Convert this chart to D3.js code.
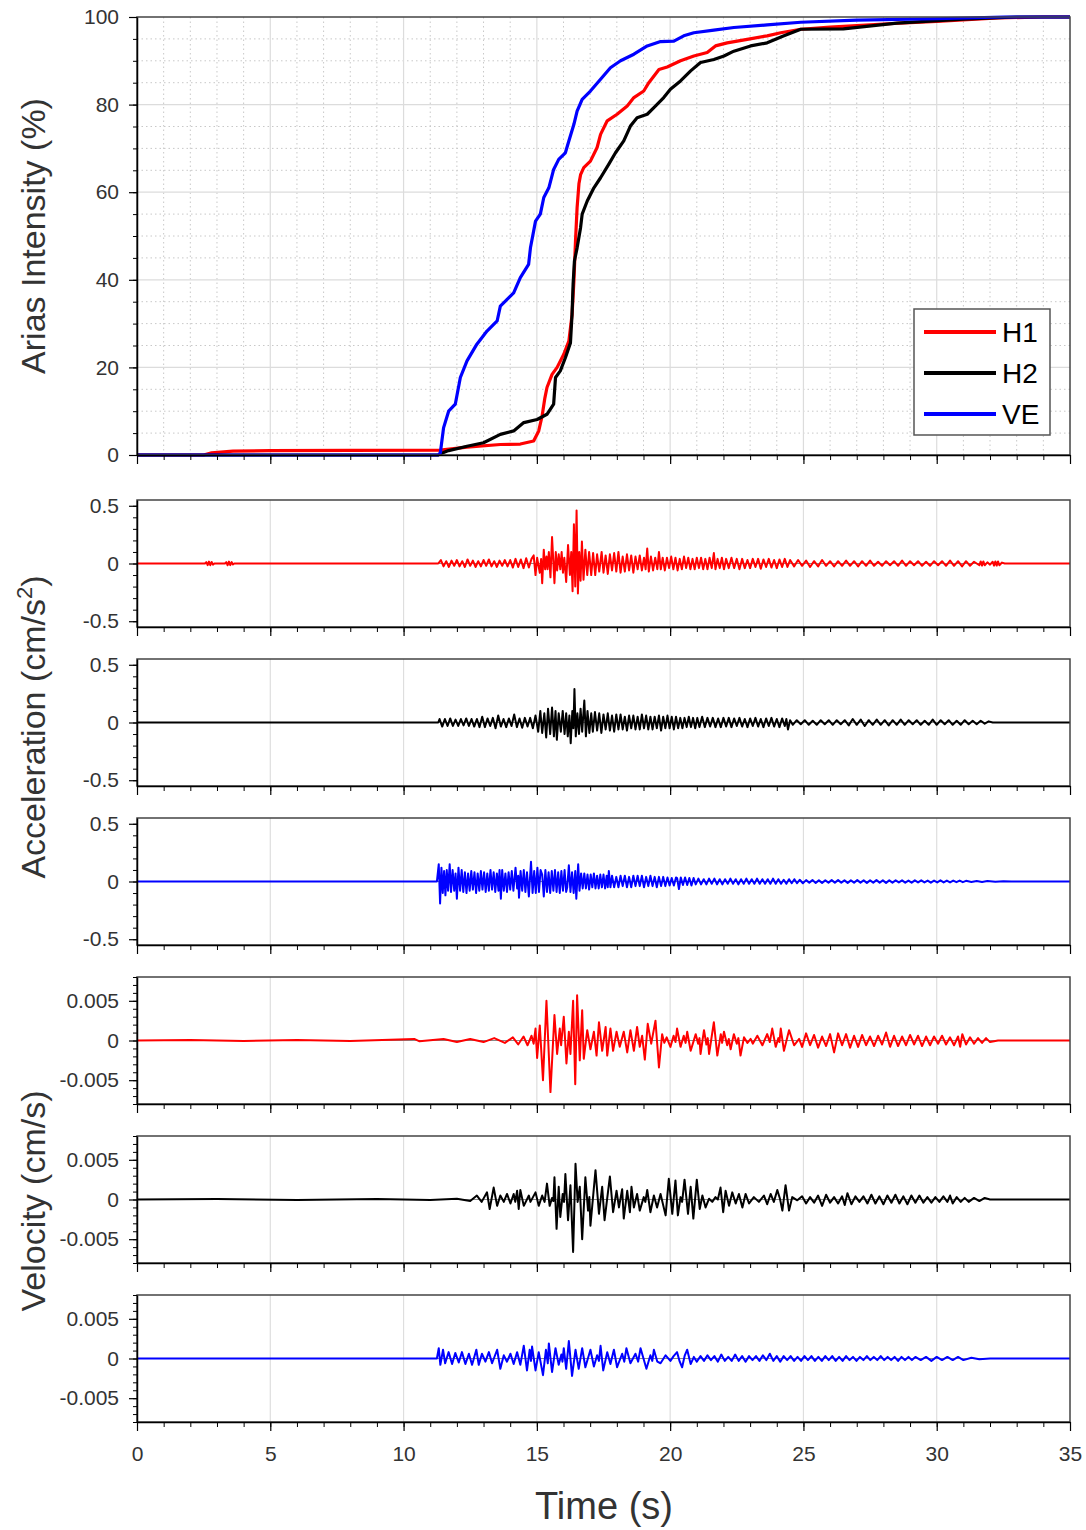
<!DOCTYPE html>
<html><head><meta charset="utf-8">
<script src="https://cdn.jsdelivr.net/npm/d3@7"></script>
<style>
body{margin:0;background:#fff}
svg{display:block}
text{font-family:"Liberation Sans",Arial,Helvetica,sans-serif}
</style>
</head><body>
<svg id="chart" width="1086" height="1530"></svg>
<script>
// ---------------- DATA ----------------
const timeMajorTicks = [0,5,10,15,20,25,30,35];
const ariasTicks = [0,20,40,60,80,100];
const accTicks = [-0.5,0,0.5];
const velTicks = [-0.005,0,0.005];
const seriesNames = ["H1","H2","VE"];

// Arias intensity (%) vs time (s)
const ariasH1 = [[0,0],[2.5,0],[2.8,0.5],[3.6,0.9],[5,1.0],[8,1.05],[11.38,1.1],[12.38,1.8],[13.63,2.4],[14.38,2.5],[14.88,3.2],[15.07,5.5],[15.2,9],[15.3,13],[15.38,15.4],[15.57,18.4],[15.76,20],[16.01,23],[16.2,26],[16.32,32],[16.39,39.7],[16.45,48.9],[16.51,56.5],[16.58,62],[16.64,64],[16.76,65.6],[17.01,67.1],[17.26,70.2],[17.39,73.2],[17.64,76.3],[18.01,77.8],[18.39,79.7],[18.64,81.6],[19.01,83.1],[19.2,85],[19.58,88],[19.89,88.6],[20.39,90],[20.89,91.1],[21.39,91.9],[21.7,93.4],[22.14,94.1],[22.89,94.9],[23.64,95.7],[24.15,96.4],[24.9,97.2],[26,97.7],[28,98.4],[30,99],[32.3,99.8],[34,100],[35,100]];
const ariasH2 = [[0,0],[11.3,0],[11.38,0.3],[11.69,1],[12.38,2],[13.0,2.8],[13.63,4.7],[14.13,5.5],[14.51,7.4],[15.01,8.1],[15.38,9.3],[15.63,11.6],[15.7,17.7],[15.88,19.2],[16.07,22.2],[16.26,25.6],[16.32,32.1],[16.36,39],[16.41,44.3],[16.51,47.3],[16.64,51.9],[16.7,55],[16.89,58],[17.14,61],[17.39,63.3],[17.7,66.4],[17.95,69],[18.26,71.7],[18.51,75.1],[18.76,77],[19.14,77.8],[19.39,79.3],[19.76,81.6],[20.01,83.5],[20.39,85.4],[20.77,87.7],[21.14,89.6],[21.64,90.3],[22.02,91.1],[22.39,92.2],[23.02,93.4],[23.64,94.1],[24.27,95.7],[24.9,97.2],[26.5,97.3],[28.5,98.6],[31,99.5],[33,100],[35,100]];
const ariasVE = [[0,0],[11.3,0],[11.38,0.5],[11.5,6.2],[11.69,10],[11.94,11.6],[12.13,17.7],[12.38,21.5],[12.75,25.3],[13.13,28.3],[13.51,30.6],[13.63,34],[14.13,37],[14.38,40.5],[14.69,43.5],[14.76,47.3],[14.95,53.4],[15.13,55],[15.26,58.8],[15.45,61],[15.63,65.2],[15.82,67.5],[16.07,69],[16.2,71.7],[16.39,75.5],[16.51,78.5],[16.7,81.2],[17.01,83.1],[17.39,85.8],[17.76,88.4],[18.14,90],[18.64,91.5],[19.14,93.4],[19.64,94.4],[20.14,94.5],[20.51,95.7],[20.89,96.4],[21.64,97],[22.39,97.6],[23.64,98.2],[24.9,98.8],[27,99.3],[30,99.6],[32.5,100],[35,100]];

// Acceleration (cm/s^2) vs time (s)
const accH1 = [[0,0],[2.55,0],[2.6,0.012],[2.65,-0.014],[2.7,0.016],[2.75,-0.015],[2.8,0.013],[2.85,-0.01],[2.9,0],[3.3,0],[3.35,0.012],[3.4,-0.015],[3.45,0.016],[3.5,-0.014],[3.55,0.012],[3.6,-0.008],[3.65,0],[11.3,0],
[11.4,0.03],[11.5,-0.025],[11.6,0.02],[11.7,-0.03],[11.8,0.025],[11.9,-0.02],[12.0,0.03],[12.1,-0.025],[12.2,0.02],[12.3,-0.03],[12.4,0.035],[12.5,-0.02],[12.6,0.025],[12.7,-0.03],[12.8,0.02],[12.9,-0.025],[13.0,0.03],[13.1,-0.02],[13.2,0.035],[13.3,-0.025],[13.4,0.02],[13.5,-0.03],[13.6,0.025],[13.7,-0.02],[13.8,0.03],[13.9,-0.025],[14.0,0.03],[14.1,-0.035],[14.2,0.04],[14.3,-0.03],[14.4,0.035],[14.5,-0.04],[14.6,0.045],[14.7,-0.035],[14.8,0.04],
[14.88,0.07],[14.95,-0.10],[15.01,0.05],[15.11,-0.08],[15.16,0.04],[15.20,-0.17],[15.26,0.12],[15.31,-0.05],[15.36,0.06],[15.40,-0.05],[15.45,0.10],[15.51,-0.12],[15.57,0.23],[15.66,-0.17],[15.71,0.10],[15.76,-0.06],[15.82,0.08],[15.88,-0.05],[15.93,0.10],[15.98,-0.08],[16.03,0.05],[16.10,-0.16],[16.17,0.16],[16.24,-0.10],[16.29,0.10],[16.34,-0.24],[16.39,0.34],[16.44,-0.20],[16.49,0.46],[16.54,-0.26],[16.59,0.10],[16.64,-0.15],[16.69,0.19],[16.75,-0.14],[16.82,0.12],[16.89,-0.10],[16.96,0.10],[17.04,-0.10],[17.11,0.09],[17.19,-0.10],[17.26,0.08],[17.34,-0.07],[17.43,0.10],[17.5,-0.08],[17.58,0.07],[17.66,-0.09],[17.74,0.08],[17.82,-0.06],[17.9,0.09],[17.98,-0.07],[18.06,0.10],[18.14,-0.08],[18.22,0.06],[18.3,-0.07],[18.38,0.08],[18.46,-0.06],[18.54,0.07],[18.62,-0.08],[18.7,0.06],[18.78,-0.05],[18.86,0.07],[18.94,-0.06],[19.02,0.05],[19.08,-0.05],[19.14,0.13],[19.2,-0.07],[19.28,0.06],[19.36,-0.06],[19.44,0.05],[19.52,-0.05],[19.58,0.10],[19.65,-0.05],[19.72,0.05],[19.8,-0.06],[19.88,0.05],[19.96,-0.04],[20.04,0.06],[20.12,-0.05],[20.2,0.05],[20.28,-0.06],[20.36,0.04],[20.44,-0.05],[20.52,0.06],[20.6,-0.04],[20.68,0.05],[20.76,-0.05],[20.84,0.04],[20.92,-0.05],[21.0,0.05],[21.08,-0.04],[21.16,0.05],[21.24,-0.05],[21.32,0.04],[21.4,-0.05],[21.48,0.05],[21.56,-0.04],[21.64,0.09],[21.7,-0.05],[21.78,0.04],[21.86,-0.04],[21.94,0.05],[22.02,-0.05],[22.1,0.04],[22.2,-0.04],[22.3,0.05],[22.4,-0.04],[22.5,0.04],[22.6,-0.05],[22.7,0.04],[22.8,-0.04],[22.9,0.03],[23.0,-0.04],[23.1,0.04],[23.2,-0.03],[23.3,0.04],[23.4,-0.045],[23.5,0.035],[23.6,-0.03],[23.7,0.04],[23.8,-0.035],[23.9,0.03],[24.0,-0.04],[24.1,0.035],[24.2,-0.03],[24.3,0.04],[24.4,-0.03],[24.5,0.03],
[24.65,-0.025],[24.8,0.03],[24.95,-0.02],[25.1,0.025],[25.25,-0.03],[25.4,0.02],[25.55,-0.025],[25.7,0.03],[25.85,-0.02],[26.0,0.02],[26.15,-0.025],[26.3,0.02],[26.45,-0.02],[26.6,0.025],[26.75,-0.02],[26.9,0.02],[27.05,-0.025],[27.2,0.02],[27.35,-0.02],[27.5,0.025],[27.65,-0.02],[27.8,0.015],[27.95,-0.02],[28.1,0.02],[28.25,-0.015],[28.4,0.02],[28.55,-0.02],[28.7,0.025],[28.85,-0.02],[29.0,0.02],[29.15,-0.015],[29.3,0.02],[29.45,-0.02],[29.6,0.015],[29.75,-0.02],[29.9,0.02],[30.05,-0.015],[30.2,0.02],[30.35,-0.02],[30.5,0.025],[30.65,-0.02],[30.8,0.02],[30.95,-0.025],[31.1,0.02],[31.25,-0.02],[31.4,0.015],
[31.6,-0.015],[31.65,0.018],[31.7,-0.018],[31.75,0.018],[31.8,-0.015],[31.9,0.01],[32.0,-0.01],[32.1,0.015],[32.15,-0.018],[32.2,0.018],[32.25,-0.018],[32.3,0.018],[32.35,-0.015],[32.45,0.008],[32.55,0],[35,0]];

const accH2 = [[0,0],[11.3,0],
[11.35,0.03],[11.45,-0.035],[11.55,0.03],[11.65,-0.03],[11.75,0.035],[11.85,-0.03],[11.95,0.025],[12.05,-0.03],[12.15,0.03],[12.25,-0.025],[12.35,0.035],[12.45,-0.03],[12.55,0.03],[12.65,-0.035],[12.75,0.03],[12.85,-0.04],[12.95,0.05],[13.05,-0.04],[13.15,0.035],[13.25,-0.03],[13.35,0.04],[13.45,-0.05],[13.55,0.06],[13.65,-0.035],[13.75,0.03],[13.85,-0.04],[13.95,0.035],[14.05,-0.03],[14.15,0.07],[14.25,-0.04],[14.35,0.035],[14.45,-0.045],[14.55,0.04],[14.65,-0.035],[14.75,0.04],[14.85,-0.05],[14.95,0.06],[15.05,-0.08],[15.13,0.10],[15.2,-0.09],[15.28,0.08],[15.35,-0.13],[15.42,0.12],[15.5,-0.10],[15.57,0.13],[15.64,-0.12],[15.7,0.10],[15.75,-0.15],[15.82,0.08],[15.9,-0.08],[15.97,0.10],[16.04,-0.10],[16.1,0.08],[16.16,-0.12],[16.22,0.06],[16.27,-0.18],[16.33,0.10],[16.37,-0.05],[16.41,0.29],[16.46,-0.12],[16.52,0.08],[16.58,-0.10],[16.64,0.12],[16.7,-0.08],[16.78,0.19],[16.84,-0.12],[16.9,0.10],[16.97,-0.09],[17.04,0.08],[17.1,-0.08],[17.18,0.09],[17.26,-0.07],[17.34,0.08],[17.42,-0.09],[17.5,0.07],[17.58,-0.06],[17.66,0.08],[17.74,-0.07],[17.82,0.06],[17.9,-0.08],[17.98,0.07],[18.06,-0.06],[18.14,0.07],[18.22,-0.06],[18.3,0.05],[18.38,-0.07],[18.46,0.06],[18.54,-0.05],[18.62,0.06],[18.7,-0.06],[18.78,0.05],[18.86,-0.06],[18.94,0.07],[19.02,-0.05],[19.1,0.06],[19.18,-0.06],[19.26,0.05],[19.34,-0.06],[19.42,0.05],[19.5,-0.05],[19.58,0.06],[19.66,-0.07],[19.74,0.05],[19.82,-0.05],[19.9,0.06],[19.98,-0.05],[20.06,0.05],[20.14,-0.06],[20.22,0.05],[20.3,-0.05],[20.38,0.04],[20.46,-0.05],[20.54,0.04],[20.62,-0.04],[20.7,0.05],[20.78,-0.04],[20.86,0.04],[20.94,-0.05],[21.02,0.04],[21.1,-0.04],[21.2,0.05],[21.3,-0.04],[21.4,0.04],[21.5,-0.035],[21.6,0.04],[21.7,-0.04],[21.8,0.035],[21.9,-0.04],[22.0,0.04],[22.1,-0.035],[22.2,0.04],[22.3,-0.04],[22.4,0.035],[22.5,-0.03],[22.6,0.04],[22.7,-0.035],[22.8,0.03],[22.9,-0.04],[23.0,0.035],[23.1,-0.03],[23.2,0.04],[23.3,-0.035],[23.4,0.03],[23.5,-0.04],[23.6,0.035],[23.7,-0.03],[23.8,0.04],[23.9,-0.035],[24.0,0.03],[24.1,-0.04],[24.2,0.035],[24.3,-0.03],[24.36,0.03],[24.42,-0.06],[24.5,0.02],[24.6,-0.02],
[24.75,0.02],[24.9,-0.015],[25.05,0.02],[25.2,-0.02],[25.35,0.015],[25.5,-0.02],[25.65,0.02],[25.8,-0.015],[25.95,0.02],[26.1,-0.02],[26.25,0.02],[26.4,-0.015],[26.55,0.02],[26.7,-0.025],[26.85,0.03],[27.0,-0.02],[27.15,0.025],[27.3,-0.03],[27.45,0.02],[27.6,-0.02],[27.75,0.025],[27.9,-0.02],[28.05,0.02],[28.2,-0.025],[28.35,0.02],[28.5,-0.02],[28.65,0.025],[28.8,-0.02],[28.95,0.02],[29.1,-0.015],[29.25,0.02],[29.4,-0.02],[29.55,0.015],[29.7,-0.02],[29.85,0.025],[30.0,-0.02],[30.15,0.02],[30.3,-0.015],[30.45,0.02],[30.6,-0.02],[30.75,0.015],[30.9,-0.02],[31.05,0.02],[31.2,-0.015],[31.35,0.015],[31.5,-0.015],[31.65,0.015],[31.8,-0.01],[31.95,0.01],[32.1,0],[35,0]];

const accVE = [[0,0],[11.25,0],
[11.32,0.15],[11.37,-0.19],[11.42,0.12],[11.47,-0.10],[11.52,0.09],[11.57,-0.12],[11.62,0.10],[11.67,-0.08],[11.73,0.15],[11.78,-0.09],[11.84,0.10],[11.9,-0.08],[11.95,0.07],[12.0,-0.15],[12.06,0.12],[12.12,-0.08],[12.18,0.10],[12.24,-0.09],[12.3,0.08],[12.36,-0.10],[12.42,0.07],[12.48,-0.08],[12.54,0.09],[12.6,-0.07],[12.66,0.08],[12.72,-0.10],[12.78,0.07],[12.84,-0.08],[12.9,0.09],[12.96,-0.07],[13.02,0.08],[13.08,-0.09],[13.14,0.07],[13.2,-0.08],[13.26,0.10],[13.32,-0.07],[13.38,0.08],[13.44,-0.09],[13.5,0.07],[13.56,-0.08],[13.6,0.10],[13.65,-0.15],[13.7,0.10],[13.76,-0.08],[13.82,0.07],[13.88,-0.09],[13.94,0.08],[14.0,-0.07],[14.06,0.09],[14.12,-0.08],[14.2,0.12],[14.26,-0.06],[14.3,0.05],[14.33,-0.14],[14.39,0.09],[14.45,-0.08],[14.51,0.10],[14.57,-0.09],[14.63,0.08],[14.7,-0.13],[14.78,0.17],[14.84,-0.10],[14.9,0.09],[14.96,-0.10],[15.02,0.12],[15.08,-0.09],[15.14,0.10],[15.2,0.06],[15.26,-0.13],[15.32,0.10],[15.38,-0.09],[15.44,0.08],[15.5,-0.10],[15.56,0.09],[15.62,-0.08],[15.68,0.10],[15.74,-0.09],[15.8,0.08],[15.86,-0.10],[15.92,0.09],[15.98,-0.08],[16.04,0.10],[16.1,-0.09],[16.14,-0.05],[16.2,0.14],[16.26,-0.09],[16.32,0.08],[16.38,-0.10],[16.44,0.09],[16.48,-0.15],[16.55,0.15],[16.6,-0.08],[16.66,0.07],[16.72,-0.06],[16.78,0.07],[16.84,-0.06],[16.9,0.06],[16.96,-0.07],[17.02,0.06],[17.08,-0.05],[17.14,0.07],[17.2,-0.06],[17.26,0.05],[17.32,-0.06],[17.38,0.06],[17.44,-0.05],[17.5,0.06],[17.56,-0.06],[17.62,0.05],[17.66,-0.05],[17.7,0.09],[17.76,-0.05],[17.82,0.05],[17.9,-0.05],[17.98,0.04],[18.06,-0.05],[18.14,0.05],[18.22,-0.04],[18.3,0.05],[18.38,-0.05],[18.46,0.04],[18.54,-0.05],[18.62,0.05],[18.7,-0.04],[18.78,0.05],[18.86,-0.04],[18.94,0.05],[19.02,-0.05],[19.1,0.04],[19.18,-0.04],[19.26,0.05],[19.34,-0.04],[19.42,0.04],[19.5,-0.05],[19.58,0.04],[19.66,-0.04],[19.74,0.04],[19.82,-0.04],[19.9,0.035],[19.98,-0.035],[20.06,0.03],[20.14,-0.035],[20.22,0.035],[20.26,0.03],[20.33,-0.065],[20.4,0.035],[20.48,-0.03],[20.56,0.035],[20.64,-0.03],[20.72,0.03],[20.8,-0.035],[20.88,0.03],[20.96,-0.025],[21.06,0.025],[21.16,-0.025],[21.26,0.02],[21.36,-0.025],[21.46,0.025],[21.56,-0.02],[21.66,0.025],[21.76,-0.025],[21.86,0.02],[21.96,-0.025],[22.06,0.02],[22.16,-0.02],[22.26,0.025],[22.36,-0.02],[22.46,0.02],[22.56,-0.025],[22.66,0.02],[22.76,-0.02],[22.86,0.025],[22.96,-0.02],[23.06,0.02],[23.16,-0.02],[23.26,0.025],[23.36,-0.02],[23.46,0.02],[23.56,-0.02],[23.66,0.02],[23.76,-0.02],[23.86,0.025],[23.96,-0.02],[24.06,0.02],[24.16,-0.02],[24.26,0.015],[24.36,-0.02],[24.46,0.02],[24.56,-0.015],[24.66,0.02],[24.76,-0.015],[24.86,0.015],
[24.98,-0.015],[25.1,0.012],[25.22,-0.01],[25.34,0.012],[25.46,-0.012],[25.58,0.01],[25.7,-0.012],[25.82,0.01],[25.94,-0.01],[26.06,0.012],[26.18,-0.01],[26.3,0.012],[26.42,-0.01],[26.54,0.01],[26.66,-0.012],[26.78,0.01],[26.9,-0.01],[27.02,0.012],[27.14,-0.01],[27.26,0.01],[27.38,-0.012],[27.5,0.01],[27.62,-0.01],[27.74,0.012],[27.86,-0.01],[27.98,0.01],[28.1,-0.012],[28.22,0.01],[28.34,-0.01],[28.46,0.01],[28.58,-0.008],[28.7,0.01],[28.82,-0.01],[28.94,0.008],[29.06,-0.01],[29.18,0.01],[29.3,-0.008],[29.42,0.01],[29.54,-0.008],[29.66,0.008],[29.78,-0.01],[29.9,0.008],[30.02,-0.008],[30.14,0.01],[30.26,-0.008],[30.38,0.008],[30.5,-0.008],[30.62,0.008],[30.74,-0.006],[30.86,0.008],[30.98,-0.006],[31.1,0.006],[31.3,-0.005],[31.5,0.005],[31.7,-0.004],[31.9,0.004],[32.2,-0.003],[32.5,0.003],[32.8,0],[35,0]];

// Velocity (cm/s) vs time (s)
const velH1 = [[0,0],[2,0.00005],[4,-0.00005],[6,0.00005],[8,-0.00005],[10.4,0.0002],[10.6,-0.0001],[11.5,0.0002],[12,-0.0002],[12.5,0.0002],[13,-0.0002],[13.4,0.0003],[13.8,-0.0003],[14.1,0.0004],[14.3,-0.0005],[14.5,0.0005],[14.65,-0.0006],[14.8,0.0006],[14.88,-0.0004],
[14.95,0.0015],[15.01,-0.0022],[15.11,0.0019],[15.23,-0.005],[15.36,0.005],[15.51,-0.0065],[15.66,0.0032],[15.76,-0.0017],[15.86,0.0015],[15.91,-0.0006],[16.01,0.003],[16.11,-0.0029],[16.2,0.0011],[16.26,-0.0017],[16.36,0.005],[16.44,-0.0055],[16.51,0.0057],[16.61,-0.0025],[16.7,0.0038],[16.76,-0.0023],[16.89,0.0013],[17.01,-0.0011],[17.14,0.0011],[17.24,-0.0019],[17.33,0.0023],[17.45,-0.0013],[17.58,0.0017],[17.64,-0.0019],[17.76,0.0015],[17.86,-0.0013],[17.99,0.0011],[18.11,-0.0008],[18.26,0.0011],[18.39,-0.0015],[18.51,0.0013],[18.64,-0.0013],[18.76,0.0017],[18.86,-0.0008],[18.95,0.0006],[19.05,-0.0024],[19.16,0.0021],[19.29,-0.0004],[19.45,0.0025],[19.58,-0.0034],[19.7,0.0008],[19.78,-0.0003],[19.87,0.0004],[20.01,-0.0008],[20.13,0.0006],[20.2,-0.0002],[20.26,0.0015],[20.39,-0.0008],[20.51,0.0006],[20.58,-0.0003],[20.64,0.0011],[20.77,-0.0013],[20.96,0.0008],[21.05,-0.0004],[21.1,0.0003],[21.14,-0.0017],[21.27,0.0013],[21.36,-0.0005],[21.41,0.0003],[21.46,-0.0017],[21.64,0.0023],[21.77,-0.0019],[21.9,0.0008],[21.95,-0.0003],[22.02,0.0011],[22.14,-0.0006],[22.2,0.0002],[22.27,-0.0011],[22.39,0.0008],[22.5,-0.0004],[22.56,0.0003],[22.64,-0.0019],[22.77,0.0004],[22.9,-0.0003],[23.02,0.0002],[23.1,-0.0004],[23.27,0.0006],[23.46,-0.0006],[23.64,0.0008],[23.74,-0.0002],[23.83,0.0015],[23.96,-0.0008],[24.06,0.0003],[24.1,-0.0002],[24.15,0.0015],[24.27,-0.0013],[24.46,0.0013],[24.65,-0.0006],[24.84,0.0002],
[24.95,-0.0008],[25.1,0.0009],[25.25,-0.0006],[25.4,0.0007],[25.55,-0.0009],[25.7,0.0005],[25.85,-0.0007],[26.0,0.0008],[26.15,-0.0015],[26.3,0.0009],[26.45,-0.0006],[26.6,0.0008],[26.75,-0.0009],[26.9,0.0006],[27.05,-0.0008],[27.2,0.0007],[27.35,-0.0006],[27.5,0.0005],[27.65,-0.0007],[27.8,0.0006],[27.95,-0.0005],[28.1,0.001],[28.25,-0.0008],[28.4,0.0006],[28.55,-0.0007],[28.7,0.0005],[28.85,-0.0006],[29.0,0.0007],[29.15,-0.0005],[29.3,0.0006],[29.45,-0.0007],[29.6,0.0005],[29.75,-0.0006],[29.9,0.0005],[30.05,-0.0004],[30.2,0.0006],[30.35,-0.0005],[30.5,0.0004],[30.65,-0.0006],[30.8,0.0005],[30.88,-0.0008],[30.96,0.0008],[31.1,-0.0005],[31.25,0.0004],[31.4,-0.0004],[31.55,0.0003],[31.7,-0.0003],[31.85,0.0003],[32.0,-0.0002],[32.3,0],[35,0]];

const velH2 = [[0,0],[3,0.00005],[6,-0.00005],[9,0.00005],[11,-0.00005],[12,0.0001],[12.5,-0.0002],[12.75,0.0005],[12.93,-0.0003],[13.13,0.0009],[13.23,-0.0012],[13.38,0.0015],[13.51,-0.0008],[13.63,0.0005],[13.76,-0.0003],[13.88,0.0007],[14.01,-0.0005],[14.13,0.0007],[14.19,-0.0003],[14.26,0.0011],[14.32,-0.0012],[14.38,0.0012],[14.51,-0.0008],[14.7,0.0005],[14.76,-0.0003],[14.95,0.0009],[15.07,-0.0008],[15.2,0.0005],[15.29,-0.0003],[15.38,0.002],[15.48,-0.0008],[15.57,0.0002],[15.62,-0.0002],[15.66,0.0028],[15.74,-0.0037],[15.82,0.0016],[15.88,-0.0022],[15.97,0.0007],[16.02,-0.0003],[16.07,0.0032],[16.17,-0.0026],[16.26,0.0018],[16.36,-0.0066],[16.45,0.0045],[16.53,-0.0003],[16.61,0.0016],[16.7,-0.005],[16.82,0.0028],[16.92,-0.0014],[16.97,0.0003],[17.01,-0.0033],[17.2,0.0037],[17.33,-0.0018],[17.45,0.0016],[17.54,-0.0026],[17.74,0.0029],[17.86,-0.0016],[17.99,0.0011],[18.08,-0.001],[18.2,0.0013],[18.26,-0.0024],[18.39,0.0011],[18.49,-0.0016],[18.55,0.0016],[18.64,-0.001],[18.76,0.0007],[18.86,-0.0014],[19.01,0.0003],[19.07,-0.0003],[19.14,0.0012],[19.26,-0.0016],[19.39,0.0005],[19.51,-0.001],[19.64,0.0007],[19.83,-0.002],[19.95,0.0026],[20.08,-0.0018],[20.2,0.0024],[20.29,-0.002],[20.39,0.0003],[20.45,-0.0003],[20.54,0.0025],[20.67,-0.0018],[20.77,0.0016],[20.87,-0.0024],[21.0,0.0025],[21.11,-0.0012],[21.21,0.0005],[21.33,-0.001],[21.46,0.0001],[21.58,-0.0003],[21.7,0.0003],[21.79,0],[21.89,0.0015],[21.99,-0.0016],[22.08,0.0011],[22.21,-0.0008],[22.33,0.0009],[22.46,-0.0005],[22.58,0.0007],[22.71,-0.001],[22.83,0.0007],[22.96,-0.0005],[23.14,0.0003],[23.33,-0.0003],[23.52,0.0005],[23.64,-0.0006],[23.77,0.0007],[23.89,-0.0003],[24.02,0.0012],[24.12,0.0001],[24.21,-0.0014],[24.33,0.0018],[24.46,-0.0014],[24.58,0.0003],[24.77,-0.0001],
[24.95,0.0004],[25.1,-0.0005],[25.25,0.0003],[25.4,-0.0004],[25.55,0.0005],[25.7,-0.0008],[25.85,0.0006],[26.0,-0.0004],[26.15,0.0003],[26.3,-0.0005],[26.45,0.0004],[26.55,-0.0007],[26.65,0.0008],[26.8,-0.0006],[26.95,0.0004],[27.1,-0.0003],[27.25,0.0004],[27.4,-0.0005],[27.55,0.0006],[27.7,-0.0005],[27.85,0.0004],[28.0,-0.0006],[28.15,0.0005],[28.3,-0.0004],[28.45,0.0006],[28.6,-0.0005],[28.75,0.0004],[28.9,-0.0006],[29.05,0.0005],[29.2,-0.0004],[29.35,0.0005],[29.5,-0.0004],[29.65,0.0003],[29.8,-0.0004],[29.95,0.0003],[30.1,-0.0003],[30.25,0.0004],[30.4,-0.0003],[30.5,0.0005],[30.6,-0.0005],[30.75,0.0003],[30.9,-0.0003],[31.05,0.0002],[31.2,-0.0003],[31.4,0.0002],[31.6,-0.0002],[31.8,0.0002],[32.0,0],[35,0]];

const velVE = [[0,0],[11.25,0],[11.32,0.0013],[11.38,-0.0008],[11.48,0.0011],[11.56,-0.0006],[11.69,0.0008],[11.82,-0.0007],[11.94,0.0007],[12.07,-0.0005],[12.19,0.0008],[12.32,-0.0007],[12.45,0.0006],[12.57,-0.0008],[12.73,0.0011],[12.82,-0.0008],[12.94,0.0006],[13.07,-0.0004],[13.2,0.0008],[13.32,-0.0006],[13.51,0.0011],[13.63,-0.0013],[13.76,0.0004],[13.88,-0.0004],[14.01,0.0006],[14.13,-0.0007],[14.26,0.0008],[14.38,-0.0008],[14.51,0.0016],[14.63,-0.0015],[14.73,0.0011],[14.78,-0.0003],[14.82,0.0015],[14.95,-0.0015],[15.07,0.0008],[15.23,-0.0021],[15.34,0.0011],[15.41,-0.0006],[15.45,0.0019],[15.57,-0.0017],[15.7,0.0013],[15.82,-0.0008],[15.92,0.0005],[15.96,-0.0004],[16.01,0.0013],[16.1,-0.0013],[16.2,0.0022],[16.32,-0.0022],[16.45,0.0011],[16.57,-0.0013],[16.7,0.0013],[16.82,-0.0011],[17.01,0.0011],[17.14,-0.001],[17.26,0.0004],[17.33,-0.0003],[17.39,0.0016],[17.49,-0.0015],[17.64,0.0008],[17.76,-0.0007],[17.89,0.0011],[18.01,-0.0011],[18.2,0.0006],[18.28,-0.0004],[18.36,0.0013],[18.51,-0.0006],[18.7,0.0006],[18.8,-0.0004],[18.89,0.0013],[19.11,-0.0013],[19.26,0.0004],[19.33,-0.0003],[19.39,0.0011],[19.52,-0.0004],[19.64,-0.0006],[19.83,0.0004],[20.01,-0.0003],[20.13,0.0003],[20.26,0.0008],[20.36,-0.0004],[20.45,-0.0011],[20.55,0.0004],[20.64,0.0011],[20.77,-0.0007],[20.89,0.0002],[21.0,-0.0004],[21.14,0.0003],[21.27,-0.0003],[21.4,0.0004],[21.53,-0.0002],[21.66,0.0003],[21.79,-0.0004],[21.92,0.0005],[22.05,-0.0003],[22.18,0.0002],[22.31,-0.0003],[22.44,0.0005],[22.57,-0.0003],[22.7,0.0003],[22.83,-0.0004],[22.96,0.0003],[23.09,-0.0002],[23.22,0.0003],[23.35,-0.0003],[23.48,0.0004],[23.61,-0.0002],[23.74,0.0006],[23.87,-0.0003],[24.0,0.0003],[24.13,-0.0004],[24.26,0.0003],[24.39,-0.0002],[24.52,0.0003],[24.65,-0.0003],[24.78,0.0002],[24.91,-0.0003],[25.04,0.0003],[25.17,-0.0002],[25.3,0.0003],[25.43,-0.0003],[25.56,0.0002],[25.69,-0.0003],[25.82,0.0003],[25.95,-0.0002],[26.08,0.0003],[26.21,-0.0003],[26.34,0.0002],[26.47,-0.0003],[26.6,0.0003],[26.73,-0.0002],[26.86,0.0002],[26.99,-0.0003],[27.12,0.0002],[27.25,-0.0002],[27.38,0.0003],[27.51,-0.0002],[27.64,0.0002],[27.77,-0.0002],[27.9,0.0003],[28.03,-0.0002],[28.16,0.0002],[28.29,-0.0002],[28.42,0.0002],[28.55,-0.0003],[28.68,0.0002],[28.81,-0.0002],[28.94,0.0002],[29.07,-0.0002],[29.2,0.0002],[29.4,-0.0002],[29.6,0.0002],[29.8,-0.0003],[30.0,0.0002],[30.2,-0.0002],[30.4,0.0002],[30.6,-0.0002],[30.8,0.0002],[31.0,-0.0002],[31.3,0.0001],[31.6,-0.0001],[32.0,0],[35,0]];

// ---------------- STYLE ----------------
const colors = {H1:"#ff0000", H2:"#000000", VE:"#0000ff"};
const xLeft = 137, xRight = 1070;
const tickFont = 21, labelFont = 34;

const svg = d3.select("#chart");
const x = d3.scaleLinear().domain([0,35]).range([xLeft, xRight]);
const minorSec = d3.range(0, 36, 1);
let clipId = 0;

function fmtNum(v){ return v === 0 ? "0" : String(v); }

function drawXAxis(g, bottom, withLabels){
  const ax = g.append("g").attr("transform", `translate(0,${bottom})`);
  ax.call(d3.axisBottom(x).tickValues(minorSec).tickSize(5).tickSizeOuter(0).tickFormat(""));
  ax.selectAll("line").attr("stroke","#000").attr("stroke-width",1);
  ax.select(".domain").attr("stroke","#000").attr("stroke-width",1.5);
  const ax2 = g.append("g").attr("transform", `translate(0,${bottom})`);
  ax2.call(d3.axisBottom(x).tickValues(timeMajorTicks).tickSize(9).tickSizeOuter(0).tickPadding(15).tickFormat(withLabels ? d3.format("d") : ""));
  ax2.select(".domain").remove();
  ax2.selectAll("line").attr("stroke","#000").attr("stroke-width",1.2);
  ax2.selectAll("text").attr("font-size", tickFont).attr("fill","#333").attr("font-family",'"Liberation Sans",Arial,sans-serif');
}

function drawYAxis(g, y, major, minor, fmt){
  const ay = g.append("g").attr("transform", `translate(${xLeft},0)`);
  ay.call(d3.axisLeft(y).tickValues(minor).tickSize(4).tickSizeOuter(0).tickFormat(""));
  ay.select(".domain").attr("stroke","#000").attr("stroke-width",1.5);
  ay.selectAll("line").attr("stroke","#000");
  const ay2 = g.append("g").attr("transform", `translate(${xLeft},0)`);
  ay2.call(d3.axisLeft(y).tickValues(major).tickSize(8).tickSizeOuter(0).tickPadding(10).tickFormat(fmt));
  ay2.select(".domain").remove();
  ay2.selectAll("line").attr("stroke","#000").attr("stroke-width",1.2);
  ay2.selectAll("text").attr("font-size", tickFont).attr("fill","#333").attr("font-family",'"Liberation Sans",Arial,sans-serif');
}

function frame(g, top, bottom){
  g.append("rect").attr("x", xLeft).attr("y", top).attr("width", xRight - xLeft).attr("height", bottom - top)
    .attr("fill","none").attr("stroke","#444").attr("stroke-width",1.5);
}

function clip(top, bottom){
  const id = "clip" + (clipId++);
  svg.append("clipPath").attr("id", id).append("rect")
    .attr("x", xLeft).attr("y", top).attr("width", xRight - xLeft).attr("height", bottom - top);
  return `url(#${id})`;
}

// ---------- Panel 1: Arias Intensity ----------
(function(){
  const top = 17, bottom = 455;
  const g = svg.append("g");
  const y = d3.scaleLinear().domain([0,100]).range([bottom, top]);
  const vMinor = minorSec.filter(d => d % 5 !== 0);
  g.selectAll(".vm").data(vMinor).join("line")
    .attr("x1", d=>x(d)).attr("x2", d=>x(d)).attr("y1", top).attr("y2", bottom)
    .attr("stroke","#c8c8c8").attr("stroke-width",1).attr("stroke-dasharray","1.5,3");
  const hMinor = d3.range(5,100,5).filter(d => d % 20 !== 0);
  g.selectAll(".hm").data(hMinor).join("line")
    .attr("x1", xLeft).attr("x2", xRight).attr("y1", d=>y(d)).attr("y2", d=>y(d))
    .attr("stroke","#c8c8c8").attr("stroke-width",1).attr("stroke-dasharray","1.5,3");
  g.selectAll(".vM").data(timeMajorTicks.slice(1,-1)).join("line")
    .attr("x1", d=>x(d)).attr("x2", d=>x(d)).attr("y1", top).attr("y2", bottom)
    .attr("stroke","#dcdcdc").attr("stroke-width",1.2);
  g.selectAll(".hM").data(ariasTicks.slice(1,-1)).join("line")
    .attr("x1", xLeft).attr("x2", xRight).attr("y1", d=>y(d)).attr("y2", d=>y(d))
    .attr("stroke","#dcdcdc").attr("stroke-width",1.2);

  const line = d3.line().x(d=>x(d[0])).y(d=>y(d[1]));
  const cp = clip(top-3, bottom+3);
  [["H1",ariasH1],["H2",ariasH2],["VE",ariasVE]].forEach(([n,data])=>{
    g.append("path").datum(data).attr("d", line).attr("fill","none")
      .attr("stroke", colors[n]).attr("stroke-width",3.2).attr("stroke-linejoin","round")
      .attr("clip-path", cp);
  });
  frame(g, top, bottom);
  drawYAxis(g, y, ariasTicks, d3.range(0,101,5), d3.format("d"));
  drawXAxis(g, bottom, false);

  const lg = g.append("g");
  lg.append("rect").attr("x",914).attr("y",309).attr("width",136).attr("height",126)
    .attr("fill","#fff").attr("stroke","#555").attr("stroke-width",1.5);
  seriesNames.forEach((n,i)=>{
    const yy = 332 + i*41;
    lg.append("line").attr("x1",924).attr("x2",996).attr("y1",yy).attr("y2",yy)
      .attr("stroke",colors[n]).attr("stroke-width",4);
    lg.append("text").attr("x",1002).attr("y",yy+10).attr("font-size",28).attr("fill","#000").text(n);
  });

  g.append("text").attr("transform","translate(45,236) rotate(-90)").attr("text-anchor","middle")
    .attr("font-size",labelFont).attr("fill","#333").text("Arias Intensity (%)");
})();

// ---------- Waveform panels ----------
const panelTops = [500,659,818,977,1136,1295];
const panelH = 127;
const panels = [
  {data:accH1, c:"H1", dom:[-0.55,0.55], major:accTicks, minor:d3.range(-5,6).map(d=>d/10), w:2},
  {data:accH2, c:"H2", dom:[-0.55,0.55], major:accTicks, minor:d3.range(-5,6).map(d=>d/10), w:2},
  {data:accVE, c:"VE", dom:[-0.55,0.55], major:accTicks, minor:d3.range(-5,6).map(d=>d/10), w:2},
  {data:velH1, c:"H1", dom:[-0.008,0.008], major:velTicks, minor:d3.range(-8,9).map(d=>d/1000), w:2},
  {data:velH2, c:"H2", dom:[-0.008,0.008], major:velTicks, minor:d3.range(-8,9).map(d=>d/1000), w:2},
  {data:velVE, c:"VE", dom:[-0.008,0.008], major:velTicks, minor:d3.range(-8,9).map(d=>d/1000), w:2}
];
panels.forEach((p,i)=>{
  const top = panelTops[i], bottom = top + panelH;
  const g = svg.append("g");
  const y = d3.scaleLinear().domain(p.dom).range([bottom, top]);
  g.selectAll(".vg").data(timeMajorTicks.slice(1,-1)).join("line")
    .attr("x1", d=>x(d)).attr("x2", d=>x(d)).attr("y1", top).attr("y2", bottom)
    .attr("stroke","#dedede").attr("stroke-width",1.2);
  g.append("line").attr("x1",xLeft).attr("x2",xRight).attr("y1",y(0)).attr("y2",y(0))
    .attr("stroke","#888").attr("stroke-width",1);
  const line = d3.line().x(d=>x(d[0])).y(d=>y(d[1]));
  g.append("path").datum(p.data).attr("d", line).attr("fill","none")
    .attr("stroke", colors[p.c]).attr("stroke-width", p.w).attr("stroke-linejoin","round")
    .attr("clip-path", clip(top, bottom));
  frame(g, top, bottom);
  drawYAxis(g, y, p.major, p.minor, fmtNum);
  drawXAxis(g, bottom, i === panels.length - 1);
});

const accT = svg.append("text").attr("transform","translate(45,727) rotate(-90)").attr("text-anchor","middle")
  .attr("font-size",labelFont).attr("fill","#333");
accT.append("tspan").text("Acceleration (cm/s");
accT.append("tspan").attr("font-size",22).attr("dy",-13).text("2");
accT.append("tspan").attr("dy",13).text(")");

svg.append("text").attr("transform","translate(45,1201) rotate(-90)").attr("text-anchor","middle")
  .attr("font-size",labelFont).attr("fill","#333").text("Velocity (cm/s)");

svg.append("text").attr("x",604).attr("y",1519).attr("text-anchor","middle")
  .attr("font-size",38).attr("fill","#333").text("Time (s)");
</script>
</body></html>
